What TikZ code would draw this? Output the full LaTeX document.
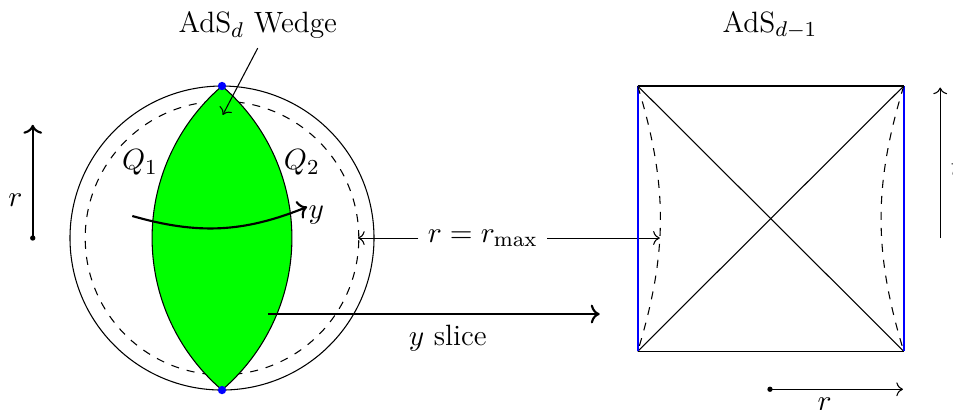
\documentclass[tikz,border=0pt]{standalone}
\usepackage{amsmath}
\usepackage{amssymb}
\usetikzlibrary{arrows.meta,positioning,calc}

\begin{document}
\begin{tikzpicture}[
    every node/.style={font=\fontsize{11}{13.6}\selectfont},
    edgept/.style={blue},
    bigarrow/.style={->,thick}
  ]
  \useasboundingbox (-2.921,-2.25) rectangle (9.618,3.132);

  % Bulk disc with wedge
  \draw (0,0) circle (2);
  \draw[dashed] (0,0) circle (1.8);
  \draw[fill=green] (0,2) arc[start angle=130.6,end angle=229.4,radius=2.634]
    arc[start angle=-49.4,end angle=49.4,radius=2.634] -- cycle;
  \fill[edgept] (0,2) circle (0.055);
  \fill[edgept] (0,-2) circle (0.055);
  \node (q1) at (-1.08,0.99) {$Q_1$};
  \node (q2) at (1.05,0.99) {$Q_2$};

  % y direction
  \coordinate (ystart) at (-1.18,0.29);
  \coordinate (yend) at (1.12,0.41);
  \node (ylbl) at (1.24,0.30) {$y$};
  \draw[bigarrow] (ystart) to[bend right=19] (yend);

  % Wedge label
  \node (wedge) at (0.47,2.8) {AdS$_d$ Wedge};
  \coordinate (wtip) at (0.01,1.62);
  \draw[->] (wedge.south) -- (wtip);

  % Radial direction, left
  \coordinate (rbase) at (-2.49,0);
  \coordinate (rtop) at (-2.49,1.49);
  \draw[bigarrow] (rbase) -- (rtop);
  \fill (rbase) circle (0.035);
  \node (rleft) at (-2.72,0.5) {$r$};

  % Cutoff surface
  \node (rmax) at (3.43,0) {$r=r_{\max}$};
  \coordinate (rin) at (1.79,0);
  \coordinate (rout) at (5.76,0);
  \draw[->] (rmax) -- (rin);
  \draw[->] (rmax) -- (rout);

  % Slice
  \coordinate (slstart) at (0.605,-1);
  \coordinate (slend) at (4.97,-1);
  \draw[bigarrow] (slstart) -- (slend);
  \node (slice) at (2.97,-1.32) {$y$ slice};

  % Penrose diagram of the slice
  \coordinate (bl) at (5.47,-1.49);
  \coordinate (br) at (8.97,-1.49);
  \coordinate (tl) at (5.47,2);
  \coordinate (tr) at (8.97,2);
  \draw (bl) -- (br);
  \draw (tl) -- (tr);
  \draw (bl) -- (tr);
  \draw (tl) -- (br);
  \draw[edgept,thick] (bl) -- (tl);
  \draw[edgept,thick] (br) -- (tr);
  \draw[dashed] (tl) to[bend left=17] (bl);
  \draw[dashed] (tr) to[bend right=17] (br);
  \node (bdy) at (7.21,2.8) {AdS$_{d-1}$};

  % Time direction
  \coordinate (tbase) at (9.45,0);
  \coordinate (ttop) at (9.45,1.98);
  \draw[->] (tbase) -- (ttop);
  \node (tlbl) at (9.66,0.93) {$t$};

  % Radial direction, bottom
  \coordinate (rbot) at (7.21,-1.99);
  \coordinate (rbotend) at (8.96,-1.99);
  \draw[->] (rbot) -- (rbotend);
  \fill (rbot) circle (0.035);
  \node (rlow) at (7.93,-2.18) {$r$};
\end{tikzpicture}
\end{document}
